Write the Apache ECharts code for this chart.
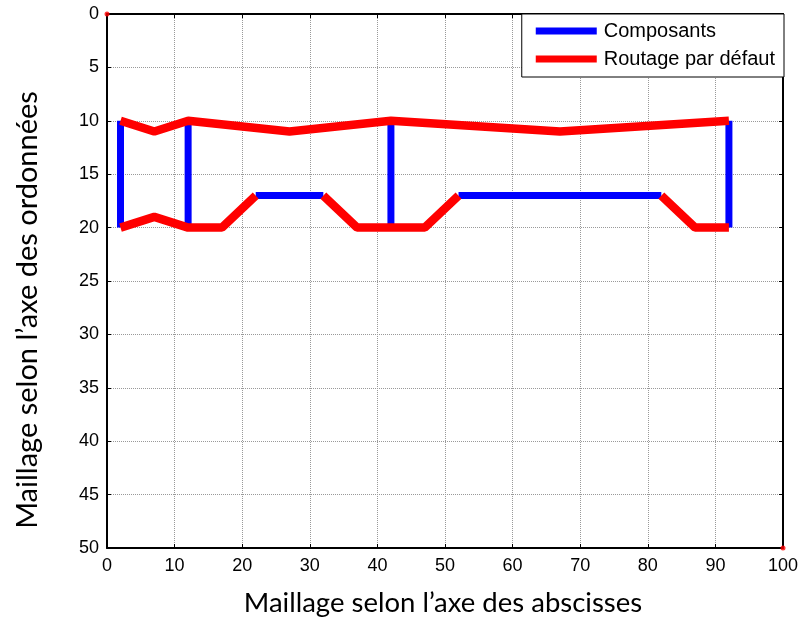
<!DOCTYPE html>
<html><head><meta charset="utf-8">
<script src="https://cdn.jsdelivr.net/npm/echarts@6/dist/echarts.min.js"></script>
<style>html,body{margin:0;padding:0;background:#fff}#c{width:804px;height:619px}</style>
</head><body><div id="c"></div>
<script>
const seriesNames = ['Composants', 'Routage par défaut'];
const xTitle = 'Maillage selon l’axe des abscisses';
const yTitle = 'Maillage selon l’axe des ordonnées';
// Components segments (null separates segments)
const composants = [
  [2,10],[2,20],null,
  [12,10],[12,20],null,
  [42,10],[42,20],null,
  [92,10],[92,20],null,
  [22,17],[32,17],null,
  [52,17],[82,17]
];
// Default routing segments
const routage = [
  [2,10],[7,11],[12,10],[27,11],[42,10],[67,11],[92,10],null,
  [2,20],[7,19],[12,20],[17,20],[22,17],null,
  [32,17],[37,20],[42,20],[47,20],[52,17],null,
  [82,17],[87,20],[92,20]
];
const cornerPoints = [[0,0],[100,50]];

const toData = arr => arr.map(p => p === null ? [null, null] : p);

const chart = echarts.init(document.getElementById('c'));
const tickFont = {color:'#000', fontFamily:'Liberation Sans, Arial, sans-serif', fontSize:18};
const titleFont = 'Lato, Open Sans, sans-serif';
chart.setOption({
  animation:false,
  grid: {left:107, right:21, top:14, bottom:71},
  legend: {
    data: seriesNames,
    right: 20, top: 14,
    orient: 'vertical',
    backgroundColor:'#fff',
    borderColor:'#000', borderWidth:1,
    padding:[7,9,8,14],
    itemGap: 8,
    itemWidth: 61, itemHeight: 7,
    icon: 'rect',
    textStyle: {color:'#000', fontFamily:'Liberation Sans, Arial, sans-serif', fontSize:20, padding:[0,0,0,2]}
  },
  graphic: [{
    type:'text', x:443, y:603,
    style:{text:xTitle, fill:'#000', font:'27.5px ' + titleFont, textAlign:'center', textVerticalAlign:'middle'}
  },{
    type:'text', x:28, y:310, rotation:Math.PI/2,
    style:{text:yTitle, fill:'#000', font:'29px ' + titleFont, textAlign:'center', textVerticalAlign:'middle'}
  }],
  xAxis: [{
    type:'value', min:0, max:100, interval:10, position:'bottom',
    axisLine:{show:true, onZero:false, lineStyle:{color:'#000', width:2}},
    axisTick:{show:true, inside:true, length:4, lineStyle:{color:'#000'}},
    axisLabel:Object.assign({margin:9}, tickFont),
    splitLine:{show:true, lineStyle:{color:'#999', type:[1,1], width:1}}
  },{
    type:'value', min:0, max:100, interval:10, position:'top',
    axisLine:{show:true, onZero:false, lineStyle:{color:'#000', width:2}},
    axisTick:{show:true, inside:true, length:4, lineStyle:{color:'#000'}},
    axisLabel:{show:false}, splitLine:{show:false}
  }],
  yAxis: [{
    type:'value', min:0, max:50, interval:5, inverse:true, position:'left',
    axisLine:{show:true, onZero:false, lineStyle:{color:'#000', width:2}},
    axisTick:{show:true, inside:true, length:4, lineStyle:{color:'#000'}},
    axisLabel:Object.assign({margin:8}, tickFont),
    splitLine:{show:true, lineStyle:{color:'#999', type:[1,1], width:1}}
  },{
    type:'value', min:0, max:50, interval:5, inverse:true, position:'right',
    axisLine:{show:true, onZero:false, lineStyle:{color:'#000', width:2}},
    axisTick:{show:true, inside:true, length:4, lineStyle:{color:'#000'}},
    axisLabel:{show:false}, splitLine:{show:false}
  }],
  series: [{
    name: seriesNames[0], type:'line', data: toData(composants),
    showSymbol:false, symbol:'none', connectNulls:false,
    color:'#0000ff',
    lineStyle:{color:'#0000ff', width:7, cap:'butt', join:'miter'}, z:2
  },{
    name: seriesNames[1], type:'line', data: toData(routage),
    showSymbol:false, symbol:'none', connectNulls:false,
    color:'#ff0000',
    lineStyle:{color:'#ff0000', width:8.5, cap:'butt', join:'bevel'}, z:3
  },{
    name:'coins', type:'scatter', data: cornerPoints,
    symbolSize:5, itemStyle:{color:'#ff0000'}, z:4
  }]
});
</script></body></html>
